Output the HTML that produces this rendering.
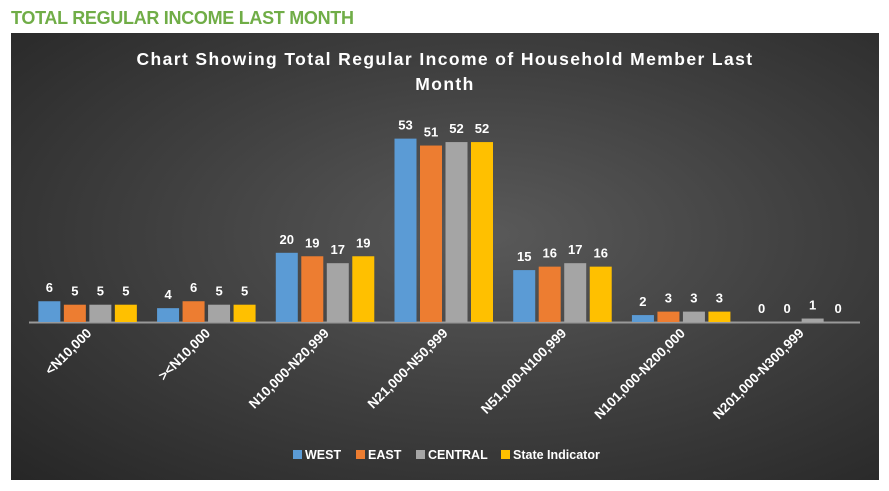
<!DOCTYPE html>
<html><head><meta charset="utf-8"><style>
body{margin:0;width:889px;height:491px;background:#fff;overflow:hidden;font-family:"Liberation Sans",sans-serif}
#hdr{position:absolute;left:11px;top:8px;font-weight:bold;font-size:18px;color:#70ad47;letter-spacing:-0.3px}
#chart{position:absolute;left:11px;top:33px;width:868px;height:447px;background:radial-gradient(ellipse at 55% 45%,#595959 0%,#3f3f3f 50%,#262626 100%)}
</style></head><body>
<div id="hdr">TOTAL REGULAR INCOME LAST MONTH</div>
<div id="chart">
<svg id="svg" width="868" height="447"></svg>
</div>
<script>
const categories=["<N10,000","><N10,000","N10,000-N20,999","N21,000-N50,999","N51,000-N100,999","N101,000-N200,000","N201,000-N300,999"];
const seriesNames=["WEST","EAST","CENTRAL","State Indicator"];
const west=[6,4,20,53,15,2,0];
const east=[5,6,19,51,16,3,0];
const central=[5,5,17,52,17,3,1];
const stateInd=[5,5,19,52,16,3,0];
const series=[west,east,central,stateInd];
const colors=["#5b9bd5","#ed7d31","#a5a5a5","#ffc000"];
const NS="http://www.w3.org/2000/svg";
const svg=document.getElementById('svg');
const x0=18,x1=849,base=289,ppu=3.46;
const gw=(x1-x0)/categories.length;
function y(v){return base-v*ppu;}
function mk(t,a,p){const e=document.createElementNS(NS,t);for(const k in a)e.setAttribute(k,a[k]);(p||svg).appendChild(e);return e;}
const t1=mk('text',{x:434,y:32,'text-anchor':'middle',fill:'#fff','font-size':17.5,'font-weight':'bold','letter-spacing':'1.4'});t1.textContent="Chart Showing Total Regular Income of Household Member Last";


const t2=mk('text',{x:434,y:57,'text-anchor':'middle',fill:'#fff','font-size':17.5,'font-weight':'bold','letter-spacing':'1.4'});t2.textContent="Month";


const ax=mk('line',{x1:x0,x2:x1,y1:base+0.5,y2:base+0.5,stroke:'#999','stroke-width':2});


categories.forEach((c,i)=>{
  const cx=x0+gw*(i+0.5);
  series.forEach((s,j)=>{
    const bx=cx-50+j*25.5;
    const r=mk('rect',{x:bx,y:y(s[i]),width:22,height:s[i]*ppu,fill:colors[j]});
    
    
    const l=mk('text',{x:bx+11,y:y(s[i])-9,'text-anchor':'middle',fill:'#fff','font-size':13,'font-weight':'bold'});l.textContent=s[i];
    
    
  });
  const tl=mk('text',{x:cx+4,y:base+12,'text-anchor':'end',fill:'#fff','font-size':13.5,'font-weight':'bold',transform:`rotate(-45 ${cx+4} ${base+12})`});tl.textContent=c;
  
  
});
let lx=282;
seriesNames.forEach((n,j)=>{
  const g=mk('g',{});
  
  
  mk('rect',{x:lx,y:417,width:9,height:9,fill:colors[j]},g);
  const t=mk('text',{x:lx+12,y:426,fill:'#fff','font-size':12.5,'font-weight':'bold'},g);t.textContent=n;
  lx+=[63,60,85,0][j];
});
</script>
</body></html>
